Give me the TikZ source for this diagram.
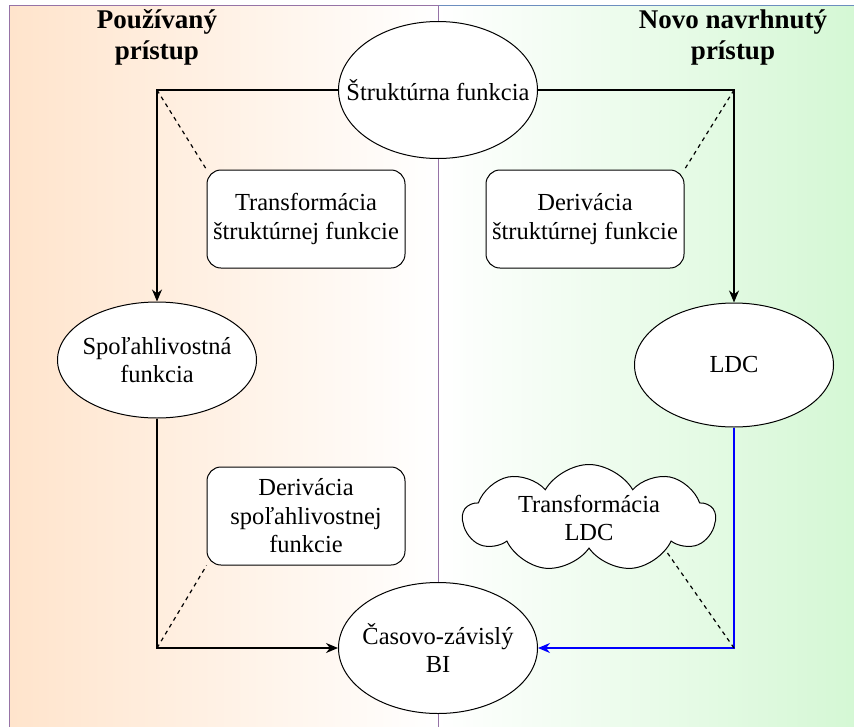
\documentclass[tikz,border=0pt]{standalone}
\usepackage{fontspec}
\setmainfont{Liberation Serif}
\usetikzlibrary{positioning,arrows.meta,shapes.geometric,shapes.symbols}
\definecolor{peach}{HTML}{FFE4CC}
\definecolor{mint}{HTML}{D2F7D2}
\definecolor{frameLila}{HTML}{9673A6}
\definecolor{frameBlue}{HTML}{6C8EBF}

\begin{document}
\begin{tikzpicture}[x=1pt, y=-1pt,
    textFont/.style={font=\fontsize{24.5}{28.5}\selectfont},
    ovalNode/.style={ellipse, draw=black, fill=white, line width=1pt, textFont, align=center, inner xsep=-45pt, inner ysep=0pt, minimum width=199pt},
    stepBox/.style={rectangle, draw=black, fill=white, rounded corners=14pt, line width=1pt, textFont, align=center, minimum width=198pt, minimum height=98pt, inner sep=0pt},
    cloudNode/.style={cloud, cloud puffs=9, cloud puff arc=120, cloud ignores aspect, draw=black, fill=white, line width=1pt, textFont, align=center, inner xsep=-15pt, inner ysep=-10pt, minimum width=252pt, minimum height=107pt},
    titleNode/.style={font=\fontsize{27}{31}\selectfont\bfseries, align=center},
    arrowStyle/.style={-{Stealth[length=12pt, width=10pt]}, line width=1.2pt, draw=black},
    blueArrow/.style={-{Stealth[length=12pt, width=10pt]}, line width=1.2pt, draw=blue},
    hintLine/.style={dash pattern=on 4pt off 4pt, line width=1.2pt}
]
    \useasboundingbox (0,0) rectangle (854,726);
    \clip (0,0) rectangle (854,726);

    % Pozadie
    \shade[left color=white, right color=mint] (438,5) rectangle (880,760);
    \shade[left color=peach, right color=white] (9,5) rectangle (438,760);
    \draw[frameBlue, line width=1pt] (438,5) -- (880,5);
    \draw[frameLila, line width=1pt] (9,760) -- (9,5) -- (438,5) -- (438,760);

    % Nadpisy
    \node[titleNode] (leftTitle) at (157,37) {Používaný\\prístup};
    \node[titleNode] (rightTitle) at (733,37) {Novo navrhnutý\\prístup};

    % Uzly
    \node[ovalNode, minimum height=137pt] (struct) at (438,90) {Štruktúrna funkcia};
    \node[ovalNode, minimum height=116pt] (spol) at (157,360) {Spoľahlivostná\\funkcia};
    \node[ovalNode, minimum height=124pt] (ldc) at (734,365) {LDC};
    \node[ovalNode, minimum height=131pt] (bi) at (438,648) {Časovo-závislý\\BI};

    \node[stepBox] (transStruct) at (306,219) {Transformácia\\štruktúrnej funkcie};
    \node[stepBox] (derivStruct) at (585,219) {Derivácia\\štruktúrnej funkcie};
    \node[stepBox] (derivSpol) at (306,516) {Derivácia\\spoľahlivostnej\\funkcie};
    \node[cloudNode] (transLdc) at (589,518) {Transformácia\\LDC};

    % Spojnice
    \coordinate (cornerTL) at (spol.north |- struct.west);
    \coordinate (cornerTR) at (ldc.north |- struct.east);
    \coordinate (cornerBL) at (spol.south |- bi.west);
    \coordinate (cornerBR) at (ldc.south |- bi.east);

    \draw[arrowStyle] (struct.west) -- (cornerTL) -- (spol.north);
    \draw[arrowStyle] (struct.east) -- (cornerTR) -- (ldc.north);
    \draw[arrowStyle] (spol.south) -- (cornerBL) -- (bi.west);
    \draw[blueArrow] (ldc.south) -- (cornerBR) -- (bi.east);

    \draw[hintLine] (cornerTL) -- (transStruct.north west);
    \draw[hintLine] (cornerTR) -- (derivStruct.north east);
    \draw[hintLine] (cornerBL) -- (derivSpol.south west);
    \draw[hintLine] (cornerBR) -- (transLdc.-23);
\end{tikzpicture}
\end{document}
